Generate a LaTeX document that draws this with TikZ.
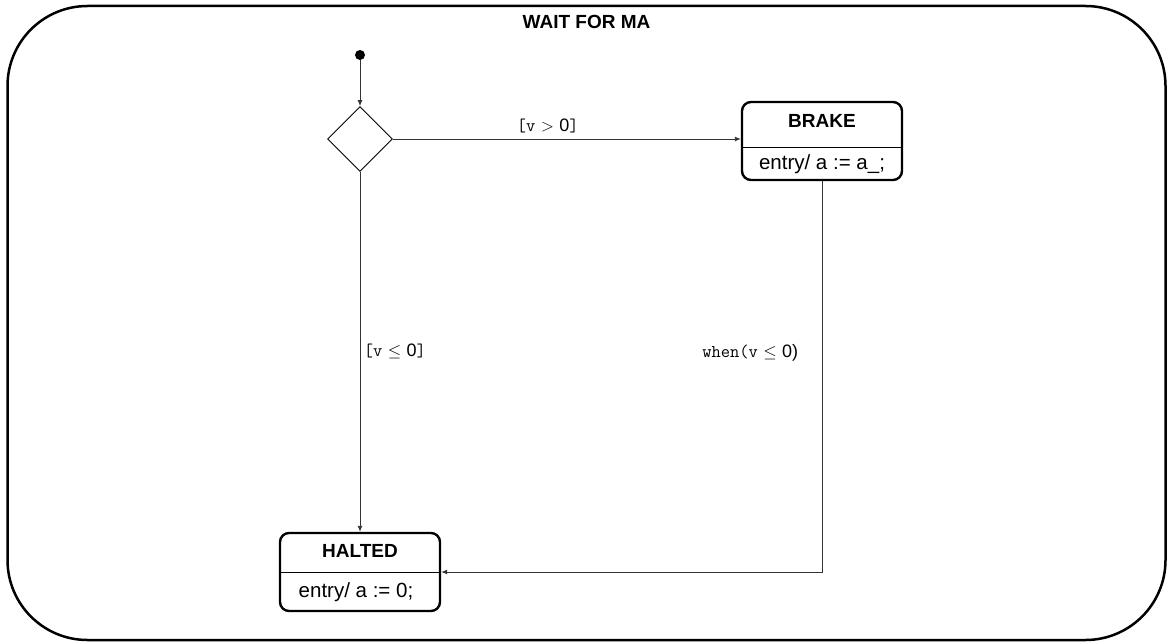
\documentclass[tikz,border=0pt]{standalone}
\usepackage{fontspec}
\setsansfont{Liberation Sans}
\usetikzlibrary{shapes.geometric,arrows.meta,positioning}

\tikzset{
  statebox/.style={draw, line width=2.4pt, rounded corners=9pt,
    minimum width=160pt, minimum height=78pt},
  statename/.style={font=\sffamily\bfseries\fontsize{19}{22}\selectfont},
  stateentry/.style={font=\sffamily\fontsize{20.5}{24}\selectfont},
  flow/.style={draw=black!80, line width=0.9pt, -{Latex[length=6pt,width=5pt]}},
  guard/.style={font=\fontsize{18}{21}\selectfont},
}

\begin{document}
\begin{tikzpicture}[x=1pt, y=-1pt]
  \useasboundingbox (0,0) rectangle (1167,642);

  % Superstate
  \node[draw, line width=2.5pt, rounded corners=80pt,
    minimum width=1158pt, minimum height=634pt] (wait) at (586.5,323) {};
  \node[statename, anchor=north] (waittitle) at ([yshift=-7pt]wait.north) {WAIT FOR MA};

  % Initial pseudostate and choice
  \node[circle, fill, inner sep=0pt, minimum size=10pt] (init) at (360,55) {};
  \node[diamond, draw, line width=0.9pt, aspect=1, inner sep=0pt,
    minimum width=65pt, minimum height=65pt] (choice) at (360,139) {};

  % States
  \node[statebox] (brake) at (822,141) {};
  \draw[line width=0.6pt] (brake.west |- 0,147) -- (brake.east |- 0,147);
  \node[statename] (brakename) at (822,121) {BRAKE};
  \node[stateentry] (brakeentry) at (822,164) {entry/ a := a\_;};

  \node[statebox] (halted) at (360,572) {};
  \draw[line width=0.6pt] (halted.west) -- (halted.east);
  \node[statename] (haltedname) at (360,551) {HALTED};
  \node[stateentry] (haltedentry) at (356,592) {entry/ a := 0;};

  % Transitions
  \draw[flow] (init) -- (choice);
  \draw[flow] (choice.east) -- node[guard, pos=0.445, above=2pt]
    {{\ttfamily[v} $>$ \textsf{0}{\ttfamily]}} (brake.west |- choice.east);
  \draw[flow] (choice.south) -- node[guard, right=0pt]
    {{\ttfamily[v} $\leq$ \textsf{0}{\ttfamily]}} (halted.north);
  \draw[flow] (brake.south) |- node[guard, pos=0.22, left=20pt]
    {{\ttfamily when(v} $\leq$ \textsf{0)}} (halted.east);
\end{tikzpicture}
\end{document}
